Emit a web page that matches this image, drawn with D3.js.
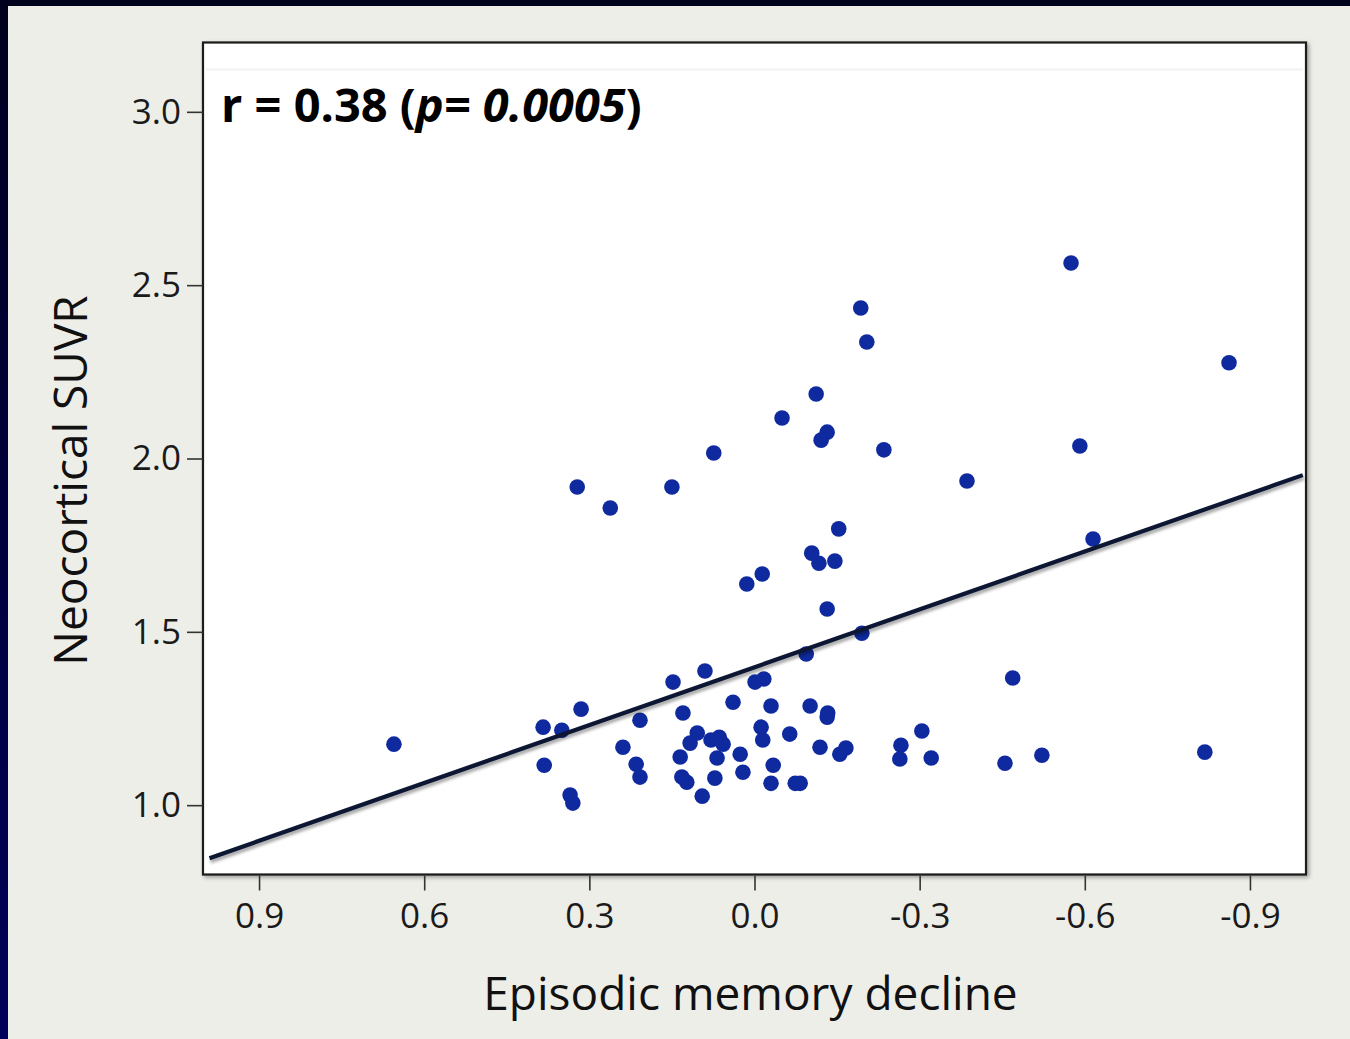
<!DOCTYPE html>
<html>
<head>
<meta charset="utf-8">
<script src="https://cdn.jsdelivr.net/npm/d3@7"></script>
<style>
  html, body { margin: 0; padding: 0; background: #eeeee9; }
  svg { display: block; }
</style>
</head>
<body>
<svg id="chart" width="1350" height="1039"></svg>
<script>
// Episodic memory decline (x) vs neocortical SUVR (y), one entry per participant
const memoryDecline = [
  0.655, 0.384, 0.350, 0.315, 0.382, 0.335, 0.330, 0.322, 0.262, 0.239,
  0.208, 0.215, 0.208, 0.150, 0.148, 0.090, 0.130, 0.135, 0.132, 0.123,
  0.104, 0.117, 0.095, 0.074, 0.079, 0.064, 0.057, 0.068, 0.072, 0.039,
  0.026, 0.021, 0.014, -0.014, -0.001, -0.017, -0.030, -0.012, -0.015, -0.034,
  -0.030, -0.050, -0.064, -0.074, -0.083, -0.094, -0.101, -0.104, -0.117, -0.146,
  -0.153, -0.112, -0.132, -0.121, -0.132, -0.133, -0.132, -0.119, -0.166, -0.155,
  -0.193, -0.195, -0.204, -0.235, -0.266, -0.264, -0.304, -0.321, -0.386, -0.455,
  -0.469, -0.522, -0.575, -0.591, -0.615, -0.818, -0.862
];
const suvr = [
  1.176, 1.225, 1.216, 1.277, 1.115, 1.029, 1.006, 1.918, 1.857, 1.167,
  1.245, 1.118, 1.081, 1.918, 1.355, 1.387, 1.266, 1.139, 1.081, 1.066,
  1.208, 1.179, 1.026, 2.016, 1.188, 1.196, 1.176, 1.136, 1.078, 1.297,
  1.147, 1.095, 1.638, 1.667, 1.355, 1.364, 1.286, 1.225, 1.188, 1.115,
  1.063, 2.117, 1.205, 1.063, 1.063, 1.436, 1.286, 1.727, 1.698, 1.704,
  1.797, 2.186, 2.076, 2.053, 1.566, 1.266, 1.254, 1.167, 1.165, 1.147,
  2.434, 1.496, 2.336, 2.025, 1.173, 1.133, 1.214, 1.136, 1.935, 1.121,
  1.367, 1.144, 2.564, 2.036, 1.768, 1.153, 2.276
];

// Least-squares fit line, drawn between its two end points
const fitX = [0.99, -0.996];
const fitY = [0.847, 1.952];

const xTicks = [0.9, 0.6, 0.3, 0.0, -0.3, -0.6, -0.9];
const yTicks = [1.0, 1.5, 2.0, 2.5, 3.0];

const statPrefix = "r = 0.38 (";
const statP = "p";
const statValue = "= 0.0005";
const statSuffix = ")";

const xTitle = "Episodic memory decline";
const yTitle = "Neocortical SUVR";

const W = 1350, H = 1039;
const svg = d3.select("#chart");
const defs = svg.append("defs");

// frame shadows
const sh = defs.append("filter").attr("id", "boxShadow")
  .attr("x", "-5%").attr("y", "-5%").attr("width", "110%").attr("height", "110%");
sh.append("feDropShadow").attr("dx", 2).attr("dy", 2).attr("stdDeviation", 2)
  .attr("flood-color", "#000").attr("flood-opacity", 0.35);

const lsh = defs.append("filter").attr("id", "lineShadow")
  .attr("x", "-5%").attr("y", "-50%").attr("width", "110%").attr("height", "200%");
lsh.append("feDropShadow").attr("dx", 1).attr("dy", 3).attr("stdDeviation", 1.6)
  .attr("flood-color", "#000").attr("flood-opacity", 0.35);

const edgeGrad = defs.append("linearGradient").attr("id", "edgeGrad")
  .attr("x1", 0).attr("y1", 0).attr("x2", 0).attr("y2", 1);
edgeGrad.append("stop").attr("offset", "0%").attr("stop-color", "#00001e");
edgeGrad.append("stop").attr("offset", "100%").attr("stop-color", "#00005a");

// page background and the dark slide edge
svg.append("rect").attr("width", W).attr("height", H).attr("fill", "#eeeee9");
svg.append("rect").attr("x", 0).attr("y", 0).attr("width", W).attr("height", 6).attr("fill", "#01031c");
svg.append("rect").attr("x", 0).attr("y", 0).attr("width", 8).attr("height", H).attr("fill", "url(#edgeGrad)");

// scales (x runs from positive on the left to negative on the right)
const x = d3.scaleLinear().domain([1.0, -1.0]).range([204, 1305]);
const y = d3.scaleLinear().domain([0.8, 3.2]).range([874.5, 42.5]);

const [px0, px1] = x.range();
const [py0, py1] = y.range();

// plot panel
svg.append("rect")
  .attr("x", px0 - 1).attr("y", py1)
  .attr("width", px1 - px0 + 2).attr("height", py0 - py1)
  .attr("fill", "#ffffff")
  .attr("stroke", "#1a1a1a").attr("stroke-width", 2.2)
  .attr("filter", "url(#boxShadow)");

// faint rule under the panel top
svg.append("line")
  .attr("x1", px0 + 2).attr("x2", px1 - 2)
  .attr("y1", py1 + 27).attr("y2", py1 + 27)
  .attr("stroke", "#f2f2f0").attr("stroke-width", 2);

// axes: plain hyphen for negatives
const fmt = d => d3.format(".1f")(d).replace("\u2212", "-");
const tickFont = "'Open Sans', 'Noto Sans', sans-serif";

const yAxis = d3.axisLeft(y).tickValues(yTicks).tickFormat(fmt)
  .tickSize(16).tickPadding(6);
const gy = svg.append("g").attr("transform", `translate(${px0 - 1},0)`).call(yAxis);
gy.select(".domain").remove();
gy.selectAll(".tick line").attr("stroke", "#333").attr("stroke-width", 1.6);
gy.selectAll(".tick text")
  .attr("font-family", tickFont).attr("font-size", 35).attr("fill", "#1a1a1a");

const xAxis = d3.axisBottom(x).tickValues(xTicks).tickFormat(fmt)
  .tickSize(15).tickPadding(13);
const gx = svg.append("g").attr("transform", `translate(0,${py0 + 1})`).call(xAxis);
gx.select(".domain").remove();
gx.selectAll(".tick line").attr("stroke", "#333").attr("stroke-width", 1.6);
gx.selectAll(".tick text")
  .attr("font-family", tickFont).attr("font-size", 35).attr("fill", "#1a1a1a");

// points
const pts = d3.zip(memoryDecline, suvr);
svg.append("g").selectAll("circle")
  .data(pts)
  .join("circle")
  .attr("cx", d => x(d[0]))
  .attr("cy", d => y(d[1]))
  .attr("r", 7.8)
  .attr("fill", "#0f2a9e");

// fit line
svg.append("line")
  .attr("x1", x(fitX[0])).attr("y1", y(fitY[0]))
  .attr("x2", x(fitX[1])).attr("y2", y(fitY[1]))
  .attr("stroke", "#0a1530").attr("stroke-width", 4.2)
  .attr("stroke-linecap", "butt")
  .attr("filter", "url(#lineShadow)");

// correlation statement
const stat = svg.append("text")
  .attr("x", 221).attr("y", 122)
  .attr("font-family", "'Open Sans', 'Noto Sans', sans-serif")
  .attr("font-size", 47).attr("font-weight", 700).attr("fill", "#000");
stat.append("tspan").text(statPrefix);
stat.append("tspan").attr("font-style", "italic").text(statP);
stat.append("tspan").attr("font-style", "italic").text(statValue);
stat.append("tspan").text(statSuffix);

// axis titles
svg.append("text")
  .attr("x", (px0 + px1) / 2 - 4).attr("y", 1010)
  .attr("text-anchor", "middle")
  .attr("font-family", "'Open Sans', 'Noto Sans', sans-serif")
  .attr("font-size", 46).attr("fill", "#111")
  .text(xTitle);

svg.append("text")
  .attr("transform", `translate(87,${(py0 + py1) / 2 + 22}) rotate(-90)`)
  .attr("text-anchor", "middle")
  .attr("font-family", "'Open Sans', 'Noto Sans', sans-serif")
  .attr("font-size", 46).attr("fill", "#111")
  .text(yTitle);
</script>
</body>
</html>
